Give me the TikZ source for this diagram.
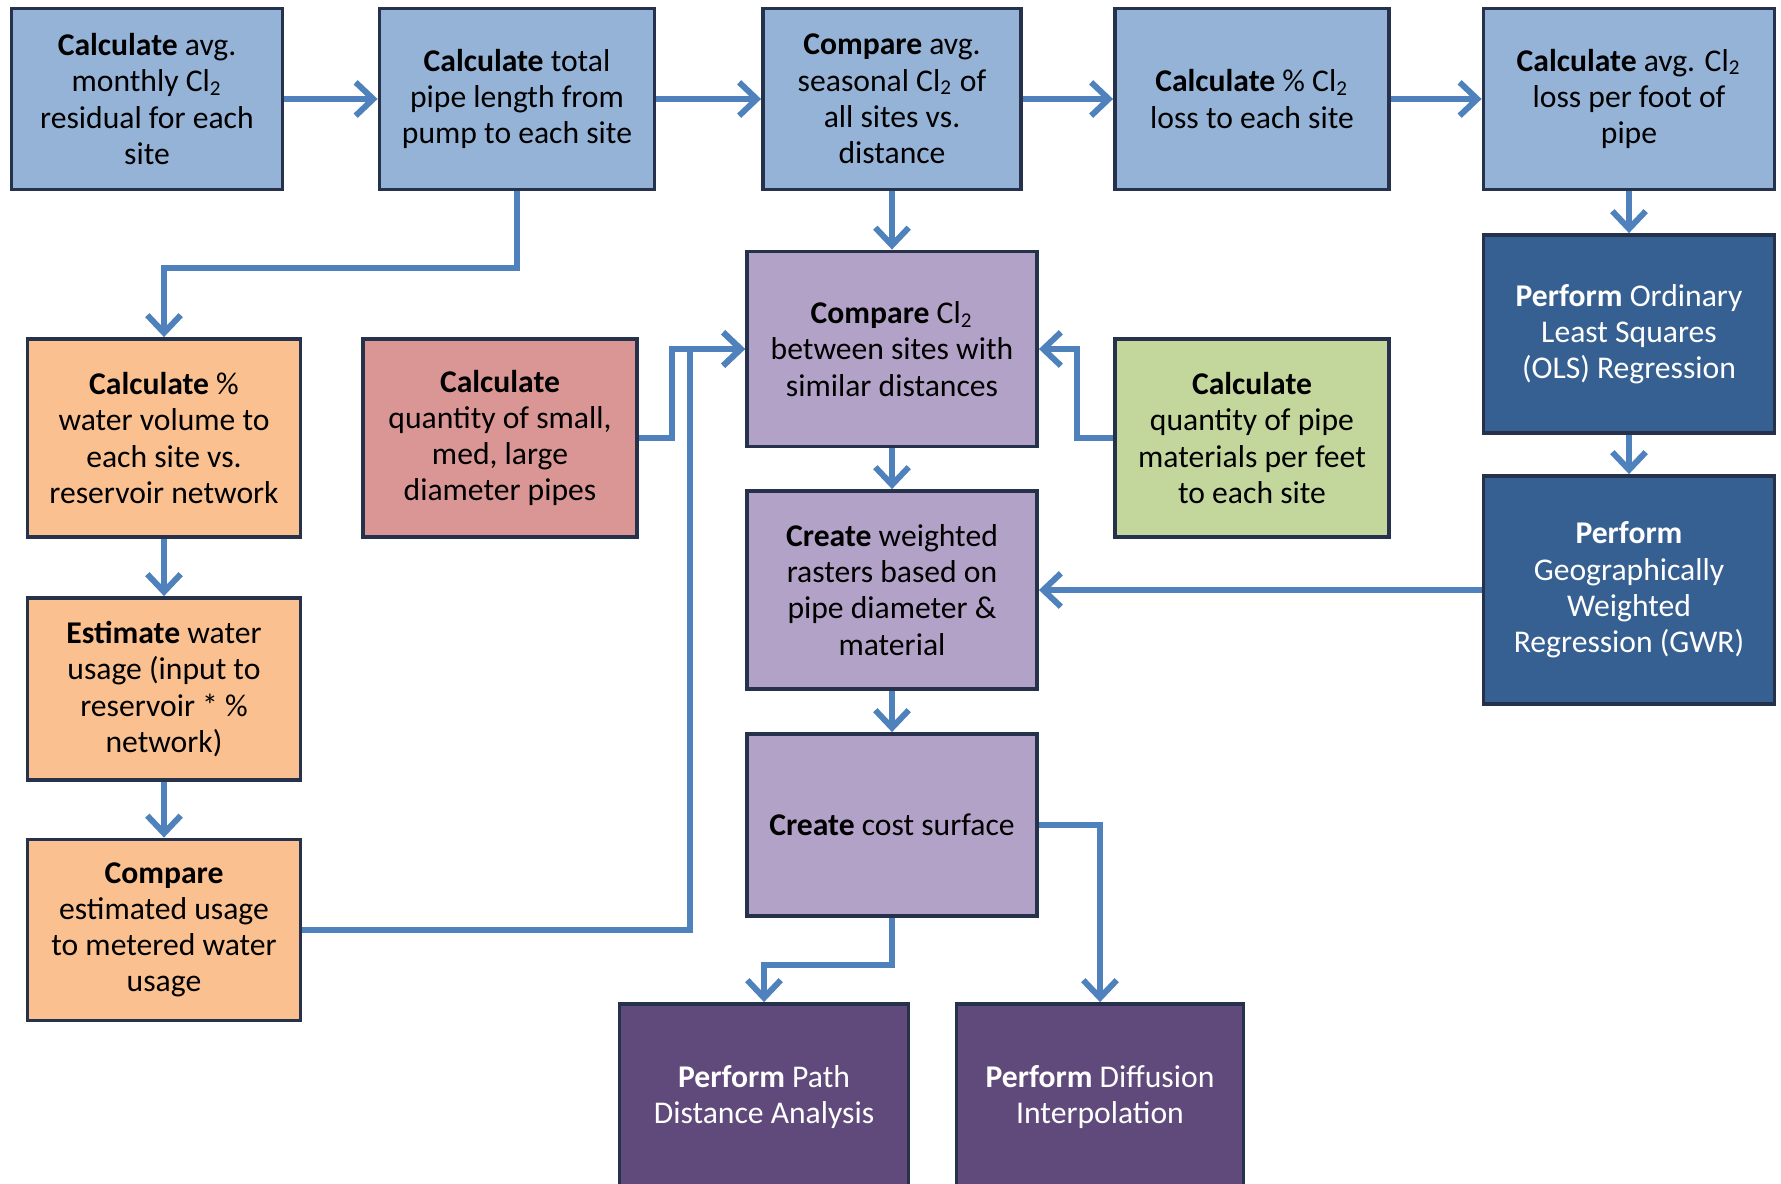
\documentclass[tikz,border=0pt]{standalone}
\usepackage{fontspec}
\setmainfont{Carlito}
\usetikzlibrary{arrows.meta}

\definecolor{edge}{RGB}{38,50,75}
\definecolor{flow}{RGB}{79,129,189}
\definecolor{cBlue}{RGB}{149,179,215}
\definecolor{cOrange}{RGB}{250,192,144}
\definecolor{cRed}{RGB}{217,150,148}
\definecolor{cGreen}{RGB}{195,214,155}
\definecolor{cLilac}{RGB}{179,162,199}
\definecolor{cNavy}{RGB}{55,96,146}
\definecolor{cPlum}{RGB}{96,74,123}

\tikzset{
  box/.style={draw=edge, line width=1.1pt, rectangle, align=center, inner sep=2pt,
    font=\fontsize{9}{10.3}\selectfont},
  bluebox/.style={box, fill=cBlue},
  orangebox/.style={box, fill=cOrange},
  redbox/.style={box, fill=cRed},
  greenbox/.style={box, fill=cGreen},
  lilacbox/.style={box, fill=cLilac},
  navybox/.style={box, fill=cNavy, text=white},
  plumbox/.style={box, fill=cPlum, text=white}
}

\begin{document}
\begin{tikzpicture}[>={Straight Barb[length=5pt,width=9.5pt]}]
\useasboundingbox (0,0) rectangle (17.81,-11.83);
\clip (0,0) rectangle (17.81,-11.83);

% top row
\node[bluebox, minimum width=2.71cm, minimum height=1.81cm] (M) at (1.47,-0.99) {\textbf{Calculate} avg.\\monthly Cl\textsubscript{2}\\residual for each\\site};
\node[bluebox, minimum width=2.75cm, minimum height=1.81cm] (T) at (5.17,-0.99) {\textbf{Calculate} total\\pipe length from\\pump to each site};
\node[bluebox, minimum width=2.58cm, minimum height=1.81cm] (S) at (8.92,-0.99) {\textbf{Compare} avg.\\seasonal Cl\textsubscript{2} of\\all sites vs.\\distance};
\node[bluebox, minimum width=2.74cm, minimum height=1.81cm] (P) at (12.52,-0.99) {\textbf{Calculate} \% Cl\textsubscript{2}\\loss to each site};
\node[bluebox, minimum width=2.91cm, minimum height=1.81cm] (F) at (16.29,-0.99) {\textbf{Calculate} avg. Cl\textsubscript{2}\\loss per foot of\\pipe};

% regressions
\node[navybox, minimum width=2.91cm, minimum height=1.98cm] (O) at (16.29,-3.34) {\textbf{Perform} Ordinary\\Least Squares\\(OLS) Regression};
\node[navybox, minimum width=2.91cm, minimum height=2.28cm] (G) at (16.29,-5.90) {\textbf{Perform}\\Geographically\\Weighted\\Regression (GWR)};

% water use column
\node[orangebox, minimum width=2.73cm, minimum height=1.98cm] (V) at (1.64,-4.38) {\textbf{Calculate} \%\\water volume to\\each site vs.\\reservoir network};
\node[orangebox, minimum width=2.73cm, minimum height=1.82cm] (E) at (1.64,-6.89) {\textbf{Estimate} water\\usage (input to\\reservoir * \%\\network)};
\node[orangebox, minimum width=2.73cm, minimum height=1.81cm] (U) at (1.64,-9.30) {\textbf{Compare}\\estimated usage\\to metered water\\usage};

% pipe inputs
\node[redbox, minimum width=2.74cm, minimum height=1.98cm] (Q) at (5.00,-4.38) {\textbf{Calculate}\\quantity of small,\\med, large\\diameter pipes};
\node[greenbox, minimum width=2.74cm, minimum height=1.98cm] (Mt) at (12.52,-4.38) {\textbf{Calculate}\\quantity of pipe\\materials per feet\\to each site};

% middle column
\node[lilacbox, minimum width=2.90cm, minimum height=1.95cm] (C) at (8.92,-3.49) {\textbf{Compare} Cl\textsubscript{2}\\between sites with\\similar distances};
\node[lilacbox, minimum width=2.90cm, minimum height=1.98cm] (W) at (8.92,-5.90) {\textbf{Create} weighted\\rasters based on\\pipe diameter \&\\material};
\node[lilacbox, minimum width=2.90cm, minimum height=1.82cm] (K) at (8.92,-8.25) {\textbf{Create} cost surface};

% outputs
\node[plumbox, minimum width=2.89cm, minimum height=1.86cm] (PD) at (7.64,-10.97) {\textbf{Perform} Path\\Distance Analysis};
\node[plumbox, minimum width=2.87cm, minimum height=1.86cm] (DI) at (11.00,-10.97) {\textbf{Perform} Diffusion\\Interpolation};

\begin{scope}[draw=flow, line width=1.7pt]
\draw[->] (M) -- (T);
\draw[->] (T) -- (S);
\draw[->] (S) -- (P);
\draw[->] (P) -- (F);
\draw[->] (F) -- (O);
\draw[->] (O) -- (G);
\draw[->] (S) -- (C);
\draw[->] (C) -- (W);
\draw[->] (W) -- (K);
\draw[->] (G) -- (W);
\draw[->] (T.south) -- ++(0,-0.77) -| (V.north);
\draw[->] (V) -- (E);
\draw[->] (E) -- (U);
\draw[->] (U.east) -- ++(3.875,0) |- (C.west);
\draw[->] (Q.east) -- ++(0.33,0) |- (C.west);
\draw[->] (Mt.west) -- ++(-0.36,0) |- (C.east);
\draw[->] (K.south) -- ++(0,-0.47) -| (PD.north);
\draw[->] (K.east) -| (DI.north);
\end{scope}
\end{tikzpicture}
\end{document}
